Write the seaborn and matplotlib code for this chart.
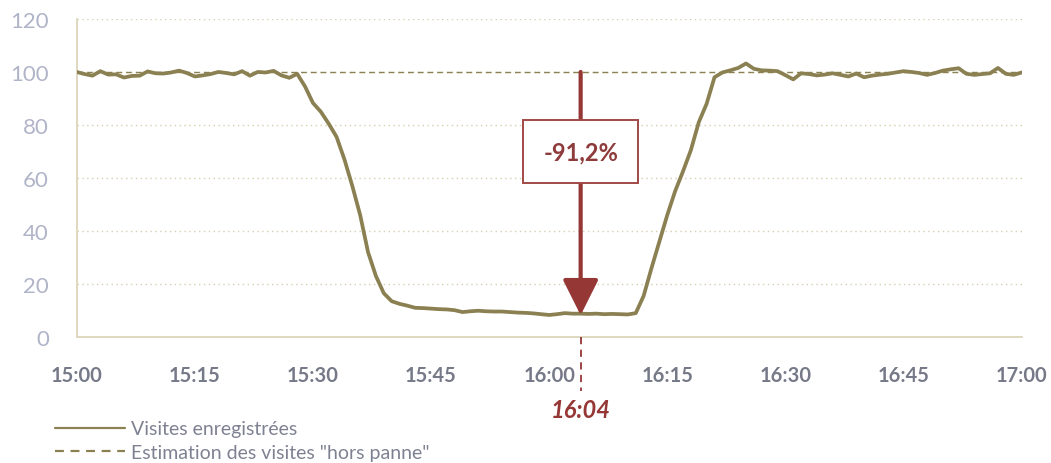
import numpy as np
import pandas as pd
import matplotlib
matplotlib.use("Agg")
import matplotlib.pyplot as plt
import seaborn as sns

# ---- data (minutes after 15:00, one value per minute) ----
minutes = list(range(0, 121))
visites = [
    100.0, 99.2, 98.6, 100.3, 99.0, 99.1, 97.9, 98.5, 98.6, 100.2,
    99.5, 99.4, 99.8, 100.5, 99.6, 98.3, 98.7, 99.2, 100.0, 99.6,
    99.1, 100.3, 98.6, 100.0, 99.8, 100.4, 98.7, 97.8, 99.3, 94.5,
    88.3, 85.0, 80.5, 75.5, 67.0, 57.0, 46.0, 32.0, 23.0, 16.5,
    13.5, 12.5, 11.8, 11.0, 10.9, 10.7, 10.5, 10.4, 10.1, 9.4,
    9.7, 9.9, 9.7, 9.6, 9.6, 9.4, 9.2, 9.1, 8.9, 8.6,
    8.3, 8.6, 9.0, 8.8, 8.8, 8.7, 8.8, 8.6, 8.7, 8.6,
    8.5, 9.0, 15.5, 26.0, 36.0, 46.0, 55.0, 62.5, 70.5, 81.0,
    88.0, 98.0, 99.8, 100.6, 101.5, 103.2, 101.2, 100.6, 100.5, 100.3,
    98.8, 97.2, 99.5, 99.2, 98.7, 99.0, 99.5, 98.9, 98.3, 99.4,
    98.0, 98.6, 99.0, 99.3, 99.8, 100.3, 100.0, 99.6, 98.9, 99.6,
    100.5, 101.0, 101.4, 99.3, 98.9, 99.2, 99.5, 101.5, 99.3, 98.9,
    99.8,
]
estimation = [100.0] * len(minutes)
tick_minutes = [0, 15, 30, 45, 60, 75, 90, 105, 120]
tick_labels = ["15:00", "15:15", "15:30", "15:45", "16:00", "16:15", "16:30", "16:45", "17:00"]
y_ticks = [0, 20, 40, 60, 80, 100, 120]
event_minute = 64
event_label = "16:04"
drop_label = "-91,2%"
drop_value = 8.2
series_names = ["Visites enregistrées", 'Estimation des visites "hors panne"']

df = pd.DataFrame({"minute": minutes, "visites": visites, "estimation": estimation})

sns.set_theme(style="white")
plt.rcParams["font.family"] = ["Lato", "DejaVu Sans"]

line_color = "#8a8052"
grid_color = "#d8cfae"
spine_color = "#dcd6bc"
red = "#953735"

fig = plt.figure(figsize=(10.51, 4.64), dpi=100)
ax = fig.add_axes([0.073, 0.2716, 0.899, 0.6854])

sns.lineplot(data=df, x="minute", y="estimation", ax=ax, color=line_color,
             lw=1.0, linestyle=(0, (4, 3)), label=series_names[1], zorder=2)
sns.lineplot(data=df, x="minute", y="visites", ax=ax, color=line_color,
             lw=2.7, label=series_names[0], zorder=3)

ax.set_xlim(0, 120)
ax.set_ylim(0, 120)
ax.set_xticks(tick_minutes)
ax.set_xticklabels(tick_labels)
ax.set_yticks(y_ticks)
ax.set_xlabel("")
ax.set_ylabel("")

for y in y_ticks[1:]:
    ax.axhline(y, color=grid_color, lw=1.0, linestyle=(0, (1, 2.5)), zorder=1)

for s in ["top", "right"]:
    ax.spines[s].set_visible(False)
for s in ["left", "bottom"]:
    ax.spines[s].set_color(spine_color)
    ax.spines[s].set_linewidth(1.3)

ax.tick_params(axis="y", which="major", length=6, width=1.2, color=spine_color,
               direction="out", labelsize=16, labelcolor="#b0b4c8", pad=14)
ax.tick_params(axis="x", which="major", length=5, width=1.2, color=spine_color,
               direction="out", labelsize=14.5, labelcolor="#767a88", pad=15)
for lbl in ax.get_xticklabels():
    lbl.set_fontweight("bold")

# arrow showing the drop
ax.annotate("", xy=(event_minute, drop_value), xytext=(event_minute, 100),
            arrowprops=dict(arrowstyle="-|>,head_length=1.1,head_width=0.55",
                            mutation_scale=20, lw=3.0, color=red,
                            shrinkA=0, shrinkB=0),
            zorder=5)
ax.text(event_minute, 70, drop_label, ha="center", va="center", fontsize=17,
        fontweight="bold", color="#8e3b3b", zorder=6,
        bbox=dict(boxstyle="square,pad=0.85", fc="white", ec="#a24a48", lw=1.4))

# event marker below the axis
ax.plot([event_minute, event_minute], [0, -20.5], color=red, lw=1.3,
        linestyle=(0, (4, 3)), clip_on=False, zorder=5)
ax.text(event_minute, -27.5, event_label, ha="center", va="center", fontsize=17,
        fontweight="bold", fontstyle="italic", color=red, clip_on=False)

handles, labels = ax.get_legend_handles_labels()
order = [labels.index(series_names[0]), labels.index(series_names[1])]
leg = fig.legend([handles[i] for i in order], [labels[i] for i in order],
                 loc="lower left", bbox_to_anchor=(0.052, 0.004), frameon=False,
                 fontsize=14, handlelength=3.6, handletextpad=0.35,
                 labelspacing=0.35, borderpad=0, borderaxespad=0)
for t in leg.get_texts():
    t.set_color("#7e8192")
for h in leg.get_lines():
    h.set_linewidth(1.6)
if ax.get_legend():
    ax.get_legend().remove()

fig.savefig("out.png", dpi=100)
